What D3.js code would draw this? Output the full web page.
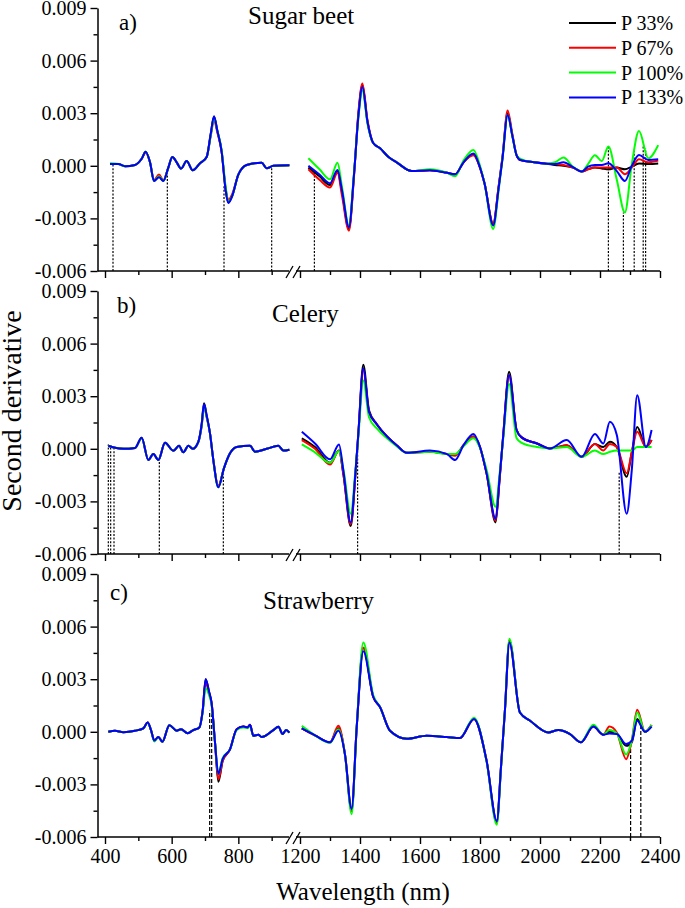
<!DOCTYPE html>
<html>
<head>
<meta charset="utf-8" />
<script src="https://cdn.jsdelivr.net/npm/d3@7"></script>
</head>
<body style="margin:0; background:#fff">
<script>
// second derivative values are written in units of 1e-4
var unit = 1e-4;
var fontFam = "'Liberation Serif'";

var seriesNames = ["P 33%", "P 67%", "P 100%", "P 133%"];
var seriesColors = ["#000000", "#ff0000", "#00ff00", "#0000ff"];

var yTicks = [-0.006, -0.003, 0, 0.003, 0.006, 0.009];
var yMinor = [-0.0045, -0.0015, 0.0015, 0.0045, 0.0075];
var xTicksLeft = [400, 600, 800];
var xMinorLeft = [500, 700, 900];
var xTicksRight = [1200, 1400, 1600, 1800, 2000, 2200, 2400];
var xMinorRight = [1300, 1500, 1700, 1900, 2100, 2300];

// a) sugar beet
var beetWl = [415,440,460,490,510,522,535,547,562,575,590,602,615,628,645,663,685,705,717,727,737,750,762,770,782,800,825,870,885,905,953,
  1228,1265,1300,1325,1340,1363,1380,1395,1408,1425,1444,1467,1495,1522,1572,1633,1690,1717,1745,1778,1800,1815,1844,1862,1875,1892,1908,1922,1935,1980,2022,2050,2078,2110,2139,2160,2183,2206,2228,2256,2283,2306,2330,2361,2394];
var beetP33 = [1,1,-0.2,0.5,4,8,2,-8.6,-6,-8.6,-1,5,2,-1.6,2.7,-2.6,1.4,5,18,28,20,8,-14,-21,-17,-5,0.5,1.8,-1.4,0,0.3,
  -1,-6,-11,-3,-15,-36,-5,30,46,25,13,10,5,2,-3,-2.6,-4,-5,2,6.5,-1,-10,-33,-12,5,30,17,6,3.3,2,1.2,0.5,0,-1,-3.3,-2,-1,-1.5,-2,-1,-2,-0.5,1.3,1,1.3];
var beetP67 = [1,1,-0.2,0.5,4,7.5,2,-8.2,-5,-8.2,-1,5,2,-1.6,2.7,-2.6,1.4,5,17,26,19,8,-13,-19.5,-16,-5,0.5,1.8,-1.4,0,0.3,
  -2,-8,-12.4,-3.9,-17,-37,-6,31,47,26,13,10,5,2,-3,-2.6,-4,-5,2,6,-1,-10,-33,-12,5,31.5,18,6,3.3,2,1.2,1,0.5,-1,-3.3,-2,-1,-1,-1,-1,-4.8,-1,3.7,2,3];
var beetP100 = [1.5,1,-0.2,0.5,4,8,2,-8.6,-6,-8.6,-1,5,2,-1.6,2.7,-2.6,1.4,5,17,27,20,9,-12,-20.5,-17,-5,0.5,1.8,-1.4,0,0.3,
  4.3,-2,-7.7,1.8,-12,-34,-4,28,43,24,13,10,5,2,-3,-2,-4,-6,3,9,0,-10,-36,-14,4,29,17,6,4,2,1.2,2,4.7,-0.5,-3.3,1,6,2.7,11,-8,-26.6,1,19.8,4.3,11.8];
var beetP133 = [1,1,-0.2,0.5,4,8,2,-8.6,-6.5,-8.6,-1,5,2,-1.6,2.7,-2.6,1.4,5,18,28.3,20,8,-14,-21.2,-17,-5,0.5,1.8,-1.4,0,0.3,
  0,-5,-10,-2.4,-14,-35,-5,29,45,25,13,10,5,2,-3,-2.6,-4,-4.8,2,7,-1,-10,-34,-13,4,29,17,6,3.3,2,1.2,1,2,-0.8,-3.3,-0.5,0.5,0.5,1.4,-3,-8.6,0,6.1,3.3,3.7];
var beetMarkWl = [424, 587, 757, 900, 1248, 2228, 2278, 2314, 2344, 2352];
var beetMarkTop = [0.5, -2, -11.5, -0.5, -3, 11, -26.6, 9.4, 11, 10];

// b) celery
var celeryWl = [410,430,455,490,510,530,545,560,580,605,622,635,650,663,680,690,697,705,715,725,740,757,775,795,835,850,885,920,935,953,
  1206,1250,1300,1330,1345,1369,1385,1395,1411,1430,1456,1490,1522,1556,1633,1690,1717,1745,1778,1800,1822,1852,1865,1878,1897,1922,1939,1990,2033,2089,2139,2183,2211,2233,2256,2289,2306,2324,2353,2372];
var celeryP33 = [1.7,0.6,0,0.5,6.3,-6.4,-3,-6.4,3.4,-1.1,1.7,-2,1.7,0,4,14,26,19,8.8,-6.4,-21.7,-11,-2.6,1,1.7,-1.7,0,1.7,-1,-0.5,
  6,1,-8,-1,-15,-44,-14,10,48,22,14,7,2,-2.3,-1.7,-3,-3.6,2,7,1,-14,-42,-18,8.8,44,10.7,6.5,3,0.2,2,-4.6,2.7,1,4,1,-16,-2,12.5,1,5];
var celeryP67 = [1.7,0.6,0,0.5,6,-6.4,-3,-6.4,3.4,-1.1,1.7,-2,1.7,0,4,13,24,18,8.8,-6.4,-21,-11,-2.6,1,1.7,-1.7,0,1.7,-1,-0.5,
  5,0,-9,-1,-15,-43,-14,10,45,21,14,7,2,-2.3,-1.7,-3,-4,2,7,1,-14,-41,-18,8.8,42,10.7,6.5,3,0.2,2,-4.6,2.7,-1,2.7,1,-14,-2,9.7,1,5];
var celeryP100 = [1.7,0.6,0,0.5,6,-6.4,-3,-6.4,3.4,-1.1,1.7,-2,1.7,0,4,13,24.5,18,8.8,-6.4,-22,-11,-2.6,1,1.7,-1.7,0,1.7,-1,-0.5,
  2.5,-2,-8,-1.3,-12,-37,-12,8,39,18,11.6,6,1.5,-2.3,-1.7,-3,-3,1.5,6,0.5,-12,-33,-15,7,37,6,3.4,1,0.2,1,-4.6,-1,-3,-1.7,-1,-1,-1,1,1,1];
var celeryP133 = [1.7,0.6,0,0.5,6.3,-6.4,-3,-6.4,3.4,-1.1,1.7,-2,1.7,0,4,14,25.5,19,8.8,-6.4,-22,-11,-2.6,1,1.7,-1.7,0,1.7,-1,-0.5,
  9.7,3,-6,2.5,-13,-42,-13,10,46,21,14,7,2,-2.3,-1,-3,-6.4,2,8.4,1,-14,-40,-17,8.8,42,10.7,6.5,3,0.2,5,-4.6,8.4,3,15.4,7.8,-37,-12,30.6,1,10.7];
var celeryMarkWl = [410, 417, 427, 563, 755, 1392, 2264];
var celeryMarkTop = [2.5, 1.5, 1, -7, -13, 0, -13];

// c) strawberry
var strawWl = [410,430,455,490,515,528,538,548,560,572,593,615,628,648,665,683,693,702,712,720,730,740,753,775,795,815,828,835,845,860,870,905,920,933,943,953,
  1206,1250,1300,1328,1350,1372,1389,1411,1444,1467,1500,1556,1622,1689,1733,1780,1822,1856,1870,1883,1898,1933,1967,2028,2061,2100,2136,2178,2211,2231,2256,2287,2306,2324,2350,2372];
var strawP33 = [0,0.6,-0.2,0.6,2,5.3,1,-5,-2.9,-5.7,3.8,0.6,1.5,-0.8,1,2.5,12,30,23,16,-6,-28.5,-16.6,-10,1.5,3,2.5,4,-2.3,-1.7,-3,1,2.9,-1.3,1,-0.5,
  2,-2,-6,2,-13,-45,2.5,48,20,14,0.6,-4,-2.3,-3,-3.6,7.3,-16.6,-51,-20,12,52,11,6.3,-0.4,1,-1.3,-6,3,-1.7,0,-1,-8,-6,7.3,0,3.8];
var strawP67 = [0,0.6,-0.2,0.6,2,5.3,1,-5,-2.9,-5.7,3.8,0.6,1.5,-0.8,1,2.5,12,28,22,16,-6,-27,-16.6,-10,1.5,3,2.5,4,-2.3,-1.7,-3,1,2.9,-1.3,1,-0.5,
  2,-2,-6,3.4,-13,-45,2.5,48,20,14,0.6,-4,-2.3,-3,-3.6,7.3,-16.6,-52,-20,12,52,11,6.3,-0.4,1,-1.3,-6,3,-1.7,3,-0.4,-15.6,-5,12.6,0,3.8];
var strawP100 = [0,0.6,-0.2,0.6,2,5,1,-5.5,-3,-5.7,3.8,0.6,1.5,-0.8,1,2.5,11,25,21,15,-6,-24,-15,-10,1,2.5,2,3.5,-2.3,-1.7,-3,1,2.9,-1.3,1,-0.5,
  3.4,-2,-6.3,1.5,-13,-47,2.5,51,21,14,0.6,-4,-2.3,-3,-3.6,8,-17,-53,-21,12,53,11,6.3,-0.4,1,-1.3,-6,4,-1.7,1,-1,-13,-5,11,0,3.8];
var strawP133 = [0,0.6,-0.2,0.6,2,5.3,1,-5,-2.9,-5.7,3.8,0.6,1.5,-0.8,1,2.5,12,30,23,16,-6,-24,-15.5,-10,1.5,3,2.5,4,-2.3,-1.7,-3,1,2.9,-1.3,1,-0.5,
  1.9,-2,-6,0.6,-13,-44,2.5,46,20,14,0.6,-4,-2.3,-3,-3.6,7.3,-16.6,-51,-20,12,51,11,6.3,-0.4,1,-1.3,-6,3,-1.7,-1,-1.3,-7,-5,6.3,0,3];
var strawMarkWl = [714, 720, 2302, 2336];
var strawMarkTop = [12, 10, -8, 6.3];

var W = 685, H = 908;
var svg = d3.select("body").append("svg").attr("width", W).attr("height", H);

// broken x axis: two linear pieces
var xLeft = d3.scaleLinear().domain([400, 900]).range([105, 271.67]);
var xRight = d3.scaleLinear().domain([1200, 2400]).range([300, 660]);
var axisX0 = 97.5, gapL = 289, gapR = 296, axisX1 = 660;
function xPos(w) { return w < 1100 ? xLeft(w) : xRight(w); }

var ph = 263;
var panels = [
  { tag: "a)", name: "Sugar beet", wl: beetWl, series: [beetP33, beetP67, beetP100, beetP133],
    marks: beetMarkWl, tops: beetMarkTop, dash: "2,1.6", top: 8, tagX: 119, tagY: 30, nameX: 248, nameY: 24 },
  { tag: "b)", name: "Celery", wl: celeryWl, series: [celeryP33, celeryP67, celeryP100, celeryP133],
    marks: celeryMarkWl, tops: celeryMarkTop, dash: "2,1.6", top: 291, tagX: 117, tagY: 313, nameX: 272, nameY: 322 },
  { tag: "c)", name: "Strawberry", wl: strawWl, series: [strawP33, strawP67, strawP100, strawP133],
    marks: strawMarkWl, tops: strawMarkTop, dash: "4,2", top: 574, tagX: 110, tagY: 600, nameX: 263, nameY: 609 }
];

function addText(sel, size, str) {
  return sel.append("text").attr("font-size", size).style("font-family", fontFam).text(str);
}

function styleAxis(sel) {
  sel.attr("font-family", null).attr("font-size", null);
  sel.selectAll("line").attr("stroke", "#000").attr("stroke-width", 1.4);
  sel.selectAll("text").attr("fill", "#000").attr("font-size", 20).style("font-family", fontFam);
}

panels.forEach(function (p, pi) {
  var g = svg.append("g");
  var yb = p.top + ph;
  var y = d3.scaleLinear().domain([-0.006, 0.009]).range([yb, p.top]);

  // wavelength marker lines
  g.selectAll(".mark").data(p.marks).enter().append("line")
    .attr("x1", function (d) { return xPos(d); })
    .attr("x2", function (d) { return xPos(d); })
    .attr("y1", yb)
    .attr("y2", function (d, i) { return y(p.tops[i] * unit); })
    .attr("stroke", "#000").attr("stroke-width", 1.2)
    .attr("stroke-dasharray", p.dash);

  // spectra, drawn in two pieces on either side of the break
  var line = d3.line()
    .x(function (d) { return xPos(d[0]); })
    .y(function (d) { return y(d[1] * unit); })
    .curve(d3.curveMonotoneX);
  p.series.forEach(function (vals, si) {
    var pts = p.wl.map(function (w, i) { return [w, vals[i]]; });
    var parts = [pts.filter(function (d) { return d[0] < 1100; }), pts.filter(function (d) { return d[0] >= 1100; })];
    g.selectAll(null).data(parts).enter().append("path")
      .attr("d", line)
      .attr("fill", "none")
      .attr("stroke", seriesColors[si])
      .attr("stroke-width", 2)
      .attr("stroke-linejoin", "round");
  });

  // y axis
  g.append("g").attr("transform", "translate(" + axisX0 + ",0)")
    .call(d3.axisLeft(y).tickValues(yTicks).tickFormat(function (d) { return d.toFixed(3); })
      .tickSize(7).tickSizeOuter(0).tickPadding(4))
    .call(styleAxis)
    .select(".domain").attr("stroke", "#000").attr("stroke-width", 1.5);
  g.append("g").attr("transform", "translate(" + axisX0 + ",0)")
    .call(d3.axisLeft(y).tickValues(yMinor).tickFormat("").tickSize(4))
    .call(styleAxis)
    .select(".domain").remove();

  // x axis pieces
  var lab = pi === 2 ? d3.format("d") : "";
  [[xLeft, xTicksLeft, xMinorLeft], [xRight, xTicksRight, xMinorRight]].forEach(function (s) {
    g.append("g").attr("transform", "translate(0," + yb + ")")
      .call(d3.axisBottom(s[0]).tickValues(s[1]).tickFormat(lab).tickSize(7).tickSizeOuter(0).tickPadding(5))
      .call(styleAxis)
      .select(".domain").remove();
    g.append("g").attr("transform", "translate(0," + yb + ")")
      .call(d3.axisBottom(s[0]).tickValues(s[2]).tickFormat("").tickSize(4))
      .call(styleAxis)
      .select(".domain").remove();
  });
  g.append("line").attr("x1", axisX0).attr("x2", gapL).attr("y1", yb).attr("y2", yb)
    .attr("stroke", "#000").attr("stroke-width", 1.5);
  g.append("line").attr("x1", gapR).attr("x2", axisX1).attr("y1", yb).attr("y2", yb)
    .attr("stroke", "#000").attr("stroke-width", 1.5);
  // break marks
  [286, 293].forEach(function (bx) {
    g.append("line").attr("x1", bx).attr("y1", yb + 7).attr("x2", bx + 7).attr("y2", yb - 5)
      .attr("stroke", "#000").attr("stroke-width", 1.3);
  });

  addText(g, 23, p.tag).attr("x", p.tagX).attr("y", p.tagY);
  addText(g, 25, p.name).attr("x", p.nameX).attr("y", p.nameY);
});

// legend
var leg = svg.append("g");
seriesNames.forEach(function (n, i) {
  var ly = 23 + i * 24.8;
  leg.append("line").attr("x1", 569).attr("x2", 616).attr("y1", ly).attr("y2", ly)
    .attr("stroke", seriesColors[i]).attr("stroke-width", 2);
  addText(leg, 20, n).attr("x", 621).attr("y", ly + 7);
});

addText(svg, 28, "Second derivative").attr("transform", "translate(21,411) rotate(-90)")
  .attr("text-anchor", "middle");
addText(svg, 25, "Wavelength (nm)").attr("x", 363).attr("y", 900)
  .attr("text-anchor", "middle");
</script>
</body>
</html>
